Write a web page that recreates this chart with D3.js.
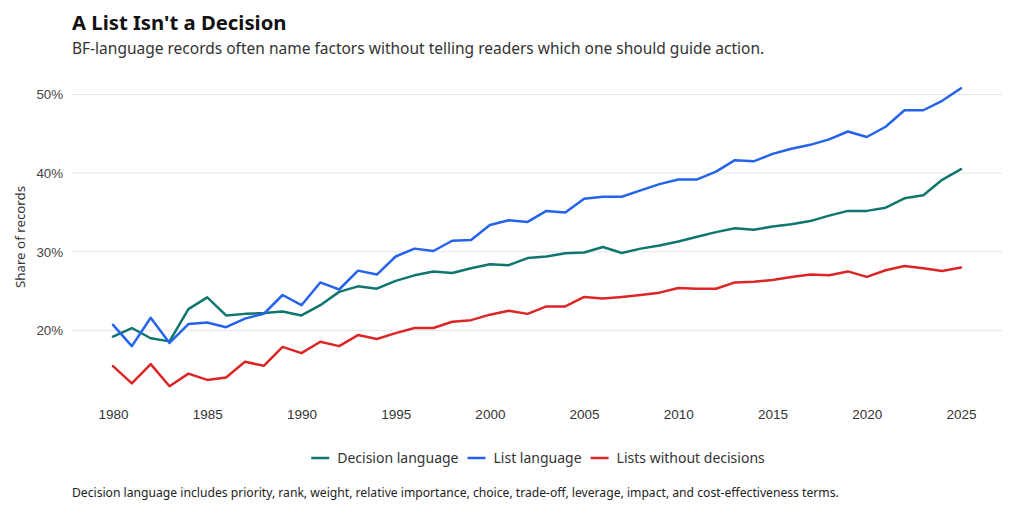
<!DOCTYPE html>
<html>
<head>
<meta charset="utf-8">
<script src="https://cdn.jsdelivr.net/npm/d3@7"></script>
<style>
  html, body { margin: 0; padding: 0; background: #fff; }
  svg { display: block; font-family: "Segoe UI", "Noto Sans", "Open Sans", sans-serif; }
</style>
</head>
<body>
<svg id="chart" width="1024" height="513"></svg>
<script>
const years = d3.range(1980, 2026);
const decisionLanguage = [19.2, 20.3, 19.0, 18.6, 22.7, 24.2, 21.9, 22.1, 22.2, 22.4, 21.9, 23.2, 24.9, 25.6, 25.3, 26.3, 27.0, 27.5, 27.3, 27.9, 28.4, 28.3, 29.2, 29.4, 29.8, 29.9, 30.6, 29.85, 30.4, 30.8, 31.3, 31.9, 32.5, 33.0, 32.8, 33.2, 33.5, 33.9, 34.6, 35.2, 35.2, 35.6, 36.8, 37.2, 39.15, 40.5];
const listLanguage = [20.7, 18.0, 21.6, 18.4, 20.8, 21.0, 20.4, 21.5, 22.1, 24.5, 23.2, 26.1, 25.2, 27.6, 27.1, 29.4, 30.4, 30.1, 31.4, 31.5, 33.4, 34.0, 33.8, 35.2, 35.0, 36.75, 37.0, 37.0, 37.8, 38.6, 39.2, 39.2, 40.2, 41.65, 41.5, 42.45, 43.1, 43.6, 44.3, 45.3, 44.6, 45.9, 48.0, 48.0, 49.2, 50.8];
const listsWithoutDecisions = [15.45, 13.25, 15.7, 12.9, 14.5, 13.7, 14.0, 16.0, 15.5, 17.9, 17.1, 18.55, 18.0, 19.4, 18.9, 19.65, 20.3, 20.3, 21.1, 21.3, 22.0, 22.5, 22.1, 23.05, 23.05, 24.25, 24.05, 24.25, 24.5, 24.8, 25.4, 25.3, 25.3, 26.1, 26.2, 26.4, 26.8, 27.1, 27.0, 27.5, 26.8, 27.65, 28.2, 27.9, 27.55, 28.0];
const seriesNames = ["Decision language", "List language", "Lists without decisions"];
const seriesColors = ["#0f766e", "#2563eb", "#dc2626"];
const yTicks = [20, 30, 40, 50];
const xTicks = [1980, 1985, 1990, 1995, 2000, 2005, 2010, 2015, 2020, 2025];

const series = [decisionLanguage, listLanguage, listsWithoutDecisions].map((vals, i) => ({
  name: seriesNames[i], color: seriesColors[i],
  values: vals.map((v, j) => ({ year: years[j], value: v }))
}));

const svg = d3.select("#chart");
const x = d3.scaleLinear().domain([1980, 2025]).range([113, 961]);
const y = d3.scaleLinear().domain([10, 52]).range([409, 78.8]);

// title
svg.append("text").attr("x", 72).attr("y", 30).attr("font-size", 20.3).attr("font-weight", 700)
  .attr("fill", "#111").text("A List Isn't a Decision");
svg.append("text").attr("x", 72).attr("y", 54).attr("font-size", 15.5)
  .attr("fill", "#333").text("BF-language records often name factors without telling readers which one should guide action.");

// grid
svg.append("g").selectAll("line").data(yTicks).join("line")
  .attr("x1", 72).attr("x2", 1002)
  .attr("y1", d => y(d)).attr("y2", d => y(d))
  .attr("stroke", "#e6e6e6").attr("stroke-width", 1);

// y axis
const yAxis = svg.append("g").attr("transform", "translate(72,0)")
  .call(d3.axisLeft(y).tickValues(yTicks).tickFormat(d => d + "%").tickSize(0).tickPadding(9));
yAxis.select(".domain").remove();
yAxis.selectAll("text").attr("font-size", 13.3).attr("fill", "#444").attr("font-family", null);

// x axis
const xAxis = svg.append("g").attr("transform", "translate(0,400)")
  .call(d3.axisBottom(x).tickValues(xTicks).tickFormat(d3.format("d")).tickSize(0).tickPadding(9));
xAxis.select(".domain").remove();
xAxis.selectAll("text").attr("font-size", 13.5).attr("fill", "#333").attr("font-family", null);

// y label
svg.append("text").attr("transform", "translate(25,237) rotate(-90)")
  .attr("text-anchor", "middle").attr("font-size", 13.3).attr("fill", "#333").text("Share of records");

// lines
const line = d3.line().x(d => x(d.year)).y(d => y(d.value));
svg.append("g").selectAll("path").data(series).join("path")
  .attr("d", d => line(d.values))
  .attr("fill", "none").attr("stroke", d => d.color)
  .attr("stroke-width", 2.5).attr("stroke-linejoin", "round").attr("stroke-linecap", "round");

// legend
const legend = svg.append("g");
let lx = 0;
const items = [];
series.forEach(s => {
  const g = legend.append("g");
  g.append("line").attr("x1", 0).attr("x2", 18).attr("y1", 0).attr("y2", 0)
    .attr("stroke", s.color).attr("stroke-width", 2.5);
  const t = g.append("text").attr("x", 26).attr("y", 5).attr("font-size", 14).attr("fill", "#333").text(s.name);
  const w = 26 + t.node().getComputedTextLength();
  items.push({ g, w });
});
const gap = 9;
const total = d3.sum(items, d => d.w) + gap * (items.length - 1);
lx = 538 - total / 2;
items.forEach(it => { it.g.attr("transform", `translate(${lx},458)`); lx += it.w + gap; });

// footnote
svg.append("text").attr("x", 72).attr("y", 497).attr("font-size", 12.15).attr("fill", "#222")
  .text("Decision language includes priority, rank, weight, relative importance, choice, trade-off, leverage, impact, and cost-effectiveness terms.");
</script>
</body>
</html>
